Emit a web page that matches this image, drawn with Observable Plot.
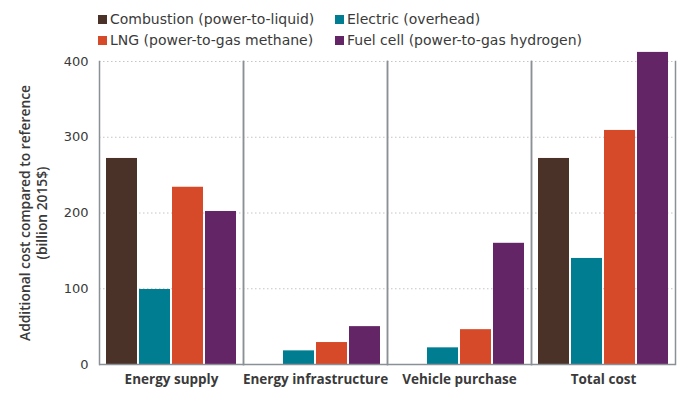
<!DOCTYPE html>
<html>
<head>
<meta charset="utf-8">
<script src="https://cdn.jsdelivr.net/npm/d3@7"></script>
<script src="https://cdn.jsdelivr.net/npm/@observablehq/plot@0.6"></script>
<style>
  html, body { margin: 0; padding: 0; background: #fff; }
  #wrap { position: relative; width: 692px; height: 398px; font-family: 'Open Sans', sans-serif; color: #3a3a3a; }
  #legend { position: relative; width: 692px; height: 48px; }
  .item { position: absolute; display: flex; align-items: center; font-family: 'DejaVu Sans', sans-serif; font-size: 14px; white-space: nowrap; color: #3a3a3a; }
  .sw { width: 9px; height: 9px; margin-right: 3px; }
  #chart svg { display: block; overflow: visible; }
</style>
</head>
<body>
<div id="wrap">
  <div id="legend"></div>
  <div id="chart"></div>
</div>
<script>
const categories = ["Energy supply", "Energy infrastructure", "Vehicle purchase", "Total cost"];
const series = ["Combustion (power-to-liquid)", "Electric (overhead)", "LNG (power-to-gas methane)", "Fuel cell (power-to-gas hydrogen)"];
const combustion = [272, 0, 0, 272];
const electric = [99, 18, 22, 140];
const lng = [234, 29, 46, 309];
const fuelCell = [202, 50, 160, 412];
const colors = ["#4b3228", "#007d90", "#d74a29", "#632566"];
const yTicks = [0, 100, 200, 300, 400];
const yLabelLines = ["Additional cost compared to reference", "(billion 2015$)"];

const seriesValues = [combustion, electric, lng, fuelCell];
const data = categories.flatMap((c, i) => series.map((s, j) => ({category: c, series: s, value: seriesValues[j][i]})));

// Legend (HTML, above the SVG)
const legend = document.getElementById("legend");
const legendPos = [[98, 19], [335, 19], [98, 40], [335, 40]];
series.forEach((s, j) => {
  const it = document.createElement("div");
  it.className = "item";
  it.style.left = legendPos[j][0] + "px";
  it.style.top = (legendPos[j][1] - 9) + "px";
  it.style.height = "18px";
  const sw = document.createElement("span");
  sw.className = "sw";
  sw.style.background = colors[j];
  const tx = document.createElement("span");
  tx.textContent = s;
  it.appendChild(sw); it.appendChild(tx);
  legend.appendChild(it);
});

const sepColor = "#8a9095";
const chart = Plot.plot({
  width: 692,
  height: 350,
  marginTop: 13,
  marginBottom: 34,
  marginLeft: 97,
  marginRight: 16,
  style: {fontFamily: "'Open Sans', sans-serif", fontSize: "13px", color: "#3a3a3a", background: "white"},
  fx: {domain: categories, padding: 0, label: null},
  x: {domain: series, paddingInner: 0.06, paddingOuter: 0.16, axis: null},
  y: {domain: [0, 400], ticks: yTicks, label: null},
  color: {domain: series, range: colors},
  marks: [
    Plot.gridY(yTicks, {stroke: "#c4c4c4", strokeOpacity: 1, strokeDasharray: "1.5,2.5"}),
    Plot.barY(data, {fx: "category", x: "series", y: "value", fill: "series"}),
    Plot.frame({anchor: "left", stroke: sepColor, strokeWidth: 1.5}),
    Plot.frame({anchor: "right", stroke: sepColor, strokeWidth: 1.5}),
    Plot.ruleY([0], {stroke: sepColor, strokeWidth: 1.5}),
    Plot.axisY({ticks: yTicks, tickSize: 0, tickPadding: 11, label: null, fontSize: 13, fontFamily: "'DejaVu Sans', sans-serif"}),
    Plot.axisFx({anchor: "bottom", tickSize: 0, tickPadding: 10, label: null, fontWeight: "bold", fontSize: 13.5})
  ]
});
document.getElementById("chart").appendChild(chart);

// Two-line rotated y-axis title
const svg = d3.select(chart);
const cy = 165;
const xs = [25, 42];
yLabelLines.forEach((t, i) => {
  svg.append("text")
    .attr("transform", `translate(${xs[i]},${cy}) rotate(-90)`)
    .attr("text-anchor", "middle")
    .attr("dy", "0.35em")
    .attr("font-weight", 600)
    .attr("font-size", 13.8)
    .attr("font-family", "'Open Sans', sans-serif")
    .attr("fill", "#3a3a3a")
    .text(t);
});
</script>
</body>
</html>
